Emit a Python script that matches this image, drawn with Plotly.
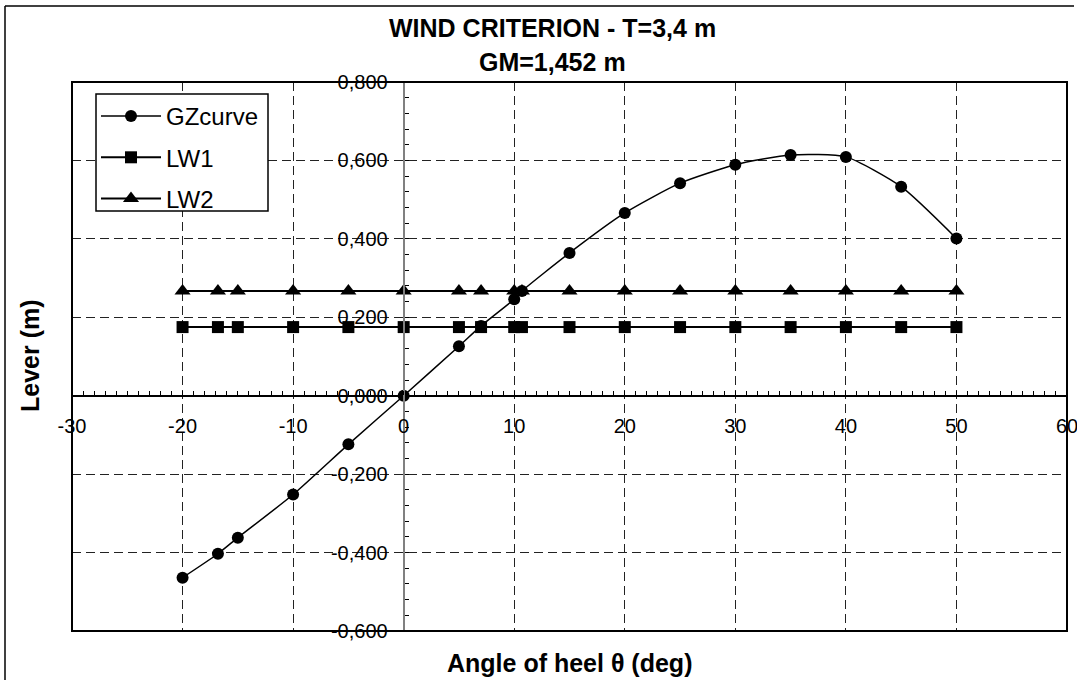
import plotly.graph_objects as go

# ---- data ----
angles = [-20, -16.8, -15, -10, -5, 0, 5, 7, 10, 10.7, 15, 20, 25, 30, 35, 40, 45, 50]
gz_curve = [-0.464, -0.403, -0.362, -0.252, -0.124, 0.0, 0.126, 0.178, 0.246, 0.267,
            0.364, 0.466, 0.542, 0.589, 0.614, 0.609, 0.533, 0.401]
lw1 = [0.175] * len(angles)
lw2 = [0.267] * len(angles)

x_tick_vals = [-30, -20, -10, 0, 10, 20, 30, 40, 50, 60]
x_tick_text = ["-30", "-20", "-10", "0", "10", "20", "30", "40", "50", "60"]
y_tick_vals = [-0.6, -0.4, -0.2, 0.0, 0.2, 0.4, 0.6, 0.8]
y_tick_text = ["-0,600", "-0,400", "-0,200", "0,000", "0,200", "0,400", "0,600", "0,800"]

title_lines = ["WIND CRITERION - T=3,4 m", "GM=1,452 m"]
x_title = "Angle of heel θ (deg)"
y_title = "Lever (m)"

# ---- layout geometry (pixels) ----
W, H = 1077, 680
L, R, T, B = 72, 10, 82, 49
PW, PH = W - L - R, H - T - B


def px(x):
    return (x - L) / PW


def py(y):
    return (H - B - y) / PH


FONT = "Arial, Liberation Sans, sans-serif"

fig = go.Figure()
fig.add_trace(go.Scatter(x=angles, y=gz_curve, name="GZcurve", mode="lines+markers",
                         line=dict(color="black", width=1.5, shape="spline", smoothing=0.6),
                         marker=dict(symbol="circle", size=12, color="black"),
                         legendgroup="a"))
fig.add_trace(go.Scatter(x=angles, y=lw1, name="LW1", mode="lines+markers",
                         line=dict(color="black", width=2),
                         marker=dict(symbol="square", size=12, color="black"),
                         legendgroup="b"))
fig.add_trace(go.Scatter(x=angles, y=lw2, name="LW2", mode="lines+markers",
                         line=dict(color="black", width=2),
                         marker=dict(symbol="triangle-up", size=14, color="black"),
                         legendgroup="c"))

xmin, xmax = -30, 60
ymin, ymax = -0.6, 0.8

fig.update_layout(
    width=W, height=H,
    margin=dict(l=L, r=R, t=T, b=B, autoexpand=False),
    paper_bgcolor="white", plot_bgcolor="white",
    font=dict(family=FONT, color="black", size=20),
    showlegend=True,
    legend=dict(x=px(96), y=py(94), xanchor="left", yanchor="top",
                bgcolor="rgba(0,0,0,0)", borderwidth=0,
                font=dict(family=FONT, size=24, color="black"),
                tracegroupgap=7, itemwidth=60),
    xaxis=dict(range=[xmin, xmax], tickmode="array", tickvals=x_tick_vals, ticktext=x_tick_text,
               anchor="free", position=(0 - ymin) / (ymax - ymin), automargin=False,
               showgrid=True, gridcolor="#222", gridwidth=1, griddash="9px,5px",
               showline=True, linecolor="black", linewidth=1.5,
               zeroline=True, zerolinecolor="#808080", zerolinewidth=2,
               ticks="inside", ticklen=4, tickcolor="black",
               minor=dict(tickmode="linear", tick0=0, dtick=1, ticks="inside", ticklen=4,
                          tickcolor="black", showgrid=False),
               ticklabelstandoff=13, ticklabeloverflow="allow",
               tickfont=dict(family=FONT, size=20, color="black")),
    yaxis=dict(range=[ymin, ymax], tickmode="array", tickvals=y_tick_vals, ticktext=y_tick_text,
               anchor="free", position=(0 - xmin) / (xmax - xmin), automargin=False,
               showgrid=True, gridcolor="#222", gridwidth=1, griddash="9px,5px",
               showline=True, linecolor="#808080", linewidth=2,
               zeroline=True, zerolinecolor="black", zerolinewidth=1.5,
               ticks="inside", ticklen=4, tickcolor="black",
               minor=dict(tickmode="linear", tick0=0, dtick=0.04, ticks="inside", ticklen=4,
                          tickcolor="black", showgrid=False),
               ticklabelstandoff=11, ticklabeloverflow="allow",
               tickfont=dict(family=FONT, size=20, color="black")),
)

# legend box
fig.add_shape(type="rect", xref="paper", yref="paper", x0=px(96), y0=py(211), x1=px(268), y1=py(94),
              line=dict(color="black", width=1.5), fillcolor="white", layer="above")
# plot frame
fig.add_shape(type="rect", xref="paper", yref="paper", x0=0, y0=0, x1=1, y1=1,
              line=dict(color="black", width=2), layer="above")
# outer chart border (top and left edges visible)
fig.add_shape(type="line", xref="paper", yref="paper", x0=px(5), y0=py(6), x1=px(1074), y1=py(6),
              line=dict(color="black", width=1.5))
fig.add_shape(type="line", xref="paper", yref="paper", x0=px(5), y0=py(6), x1=px(5), y1=py(700),
              line=dict(color="black", width=1.5))

# titles
fig.add_annotation(text="<b>%s</b>" % title_lines[0], xref="paper", yref="paper",
                   x=px(552), y=py(28), xanchor="center", yanchor="middle", showarrow=False,
                   font=dict(family=FONT, size=25, color="black"))
fig.add_annotation(text="<b>%s</b>" % title_lines[1], xref="paper", yref="paper",
                   x=px(552), y=py(62), xanchor="center", yanchor="middle", showarrow=False,
                   font=dict(family=FONT, size=25, color="black"))
fig.add_annotation(text="<b>%s</b>" % x_title, xref="paper", yref="paper",
                   x=px(569), y=py(663), xanchor="center", yanchor="middle", showarrow=False,
                   font=dict(family=FONT, size=25, color="black"))
fig.add_annotation(text="<b>%s</b>" % y_title, xref="paper", yref="paper",
                   x=px(30), y=py(356), xanchor="center", yanchor="middle", showarrow=False,
                   textangle=-90, font=dict(family=FONT, size=25, color="black"))

fig.write_html("out.html")
